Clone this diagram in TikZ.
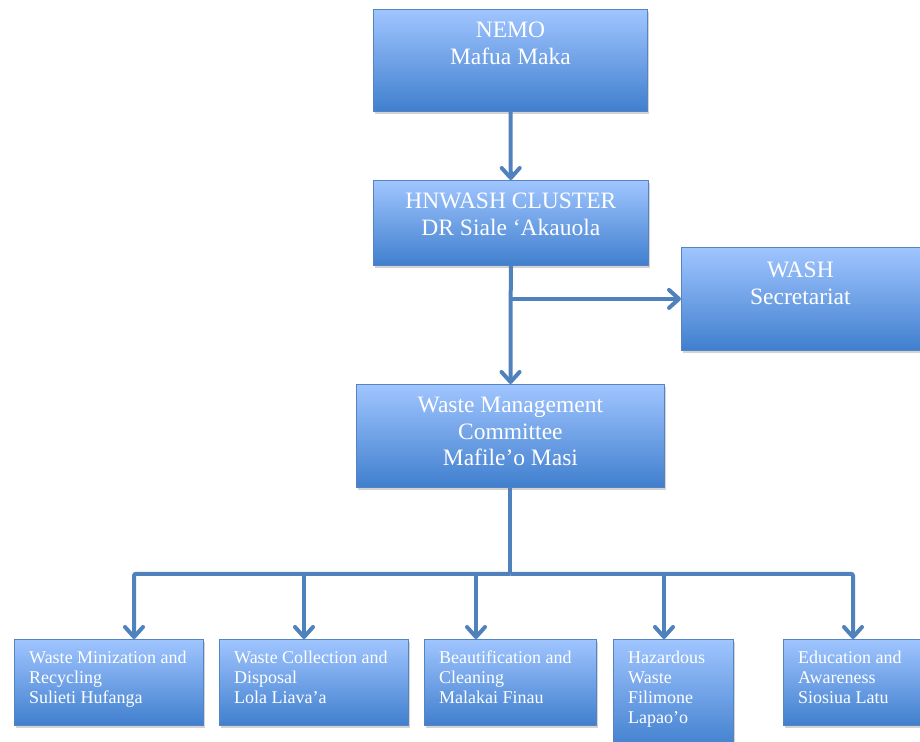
\documentclass[tikz,border=0pt]{standalone}
\usepackage{fontspec}
\setmainfont{Liberation Serif}
\usetikzlibrary{arrows.meta,shadows,positioning}

\definecolor{boxtop}{RGB}{160,197,255}
\definecolor{boxbot}{RGB}{64,127,206}
\definecolor{boxline}{RGB}{86,132,192}
\definecolor{linkblue}{RGB}{79,129,189}

\tikzset{
    unit/.style={draw=boxline, line width=0.8pt, top color=boxtop, bottom color=boxbot,
        drop shadow={opacity=0.35, shadow xshift=2pt, shadow yshift=-3pt},
        anchor=north west, inner sep=0pt},
    bigtxt/.style={text=white, font=\fontsize{23.5}{26.5}\selectfont, align=center, inner sep=0pt},
    smalltxt/.style={text=white, font=\fontsize{18}{20}\selectfont, align=left, inner sep=0pt},
    link/.style={linkblue, line width=4pt},
    arr/.style={link, -{Straight Barb[length=10pt, width=18pt, round]}}
}

\begin{document}
\begin{tikzpicture}[x=1pt,y=-1pt]
    \useasboundingbox (0,0) rectangle (920,741);

    % upper boxes
    \node[unit, minimum width=274, minimum height=102] (nemo) at (373,9) {};
    \node[unit, minimum width=275, minimum height=85] (hnwash) at (373,180) {};
    \node[unit, minimum width=250, minimum height=103] (wash) at (681,247) {};
    \node[unit, minimum width=308, minimum height=103] (wmc) at (356,384) {};

    \node[bigtxt, below=13pt of nemo.north] (nemotxt) {NEMO\\Mafua Maka};
    \node[bigtxt, below=13pt of hnwash.north] (hnwashtxt) {HNWASH CLUSTER\\DR Siale ‘Akauola};
    \node[bigtxt, below=15pt of wash.north, xshift=-6pt] (washtxt) {WASH\\Secretariat};
    \node[bigtxt, below=13pt of wmc.north] (wmctxt) {Waste Management\\Committee\\Mafile’o Masi};

    % sub-committees
    \foreach \n/\x/\w/\h/\txt in {
        min/14/189/86/{Waste Minization and\\Recycling\\Sulieti Hufanga},
        coll/219/189/86/{Waste Collection and\\Disposal\\Lola Liava’a},
        beaut/424/172/86/{Beautification and\\Cleaning\\Malakai Finau},
        haz/613/120/110/{Hazardous\\Waste\\Filimone\\Lapao’o},
        edu/783/150/86/{Education and\\Awareness\\Siosiua Latu}}
    {
        \node[unit, minimum width=\w, minimum height=\h] (\n) at (\x,639) {};
        \node[smalltxt, below right=12pt and 15pt of \n.north west] (\n txt) {\txt};
    }

    % links
    \draw[arr] (nemo) -- (hnwash);
    \draw[arr] (hnwash) -- (wmc);
    \draw[arr] (hnwash.south |- wash.west) -- (wash.west);
    \draw[link] (wmc.south) -- ++(0,86) coordinate (hub);
    \draw[arr, rounded corners=2pt] (hub) -| (134,0 |- min.north);
    \draw[arr, rounded corners=2pt] (hub) -| (853,0 |- edu.north);
    \foreach \n/\x in {coll/304, beaut/476, haz/664}
        \draw[arr] (\x,0 |- hub) -- (\x,0 |- \n.north);
\end{tikzpicture}
\end{document}
